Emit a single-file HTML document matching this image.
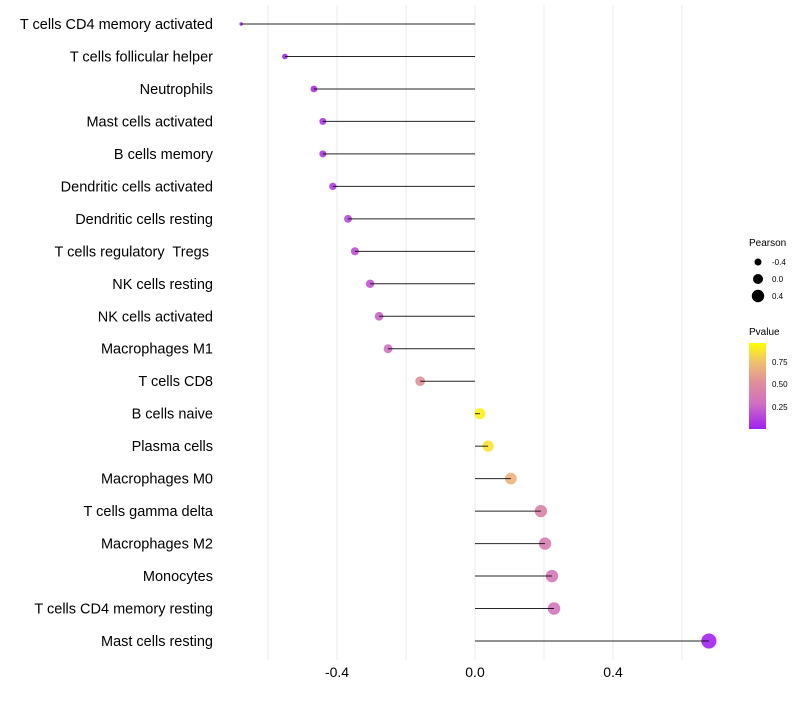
<!DOCTYPE html>
<html><head><meta charset="utf-8"><style>
body{margin:0;background:#fff;font-family:"Liberation Sans",sans-serif}
text{white-space:pre}
</style></head><body>
<svg id="c" width="800" height="700" xmlns="http://www.w3.org/2000/svg">
<defs><linearGradient id="pg" x1="0" y1="1" x2="0" y2="0">
<stop offset="0" stop-color="#a020f0"/><stop offset="0.3" stop-color="#d070c0"/><stop offset="0.55" stop-color="#e0909a"/><stop offset="0.78" stop-color="#f0c070"/><stop offset="1" stop-color="#ffff00"/></linearGradient></defs>
<g id="grid"></g><g id="marks"></g><g id="labels"></g>
<g font-size="10" fill="#000">
<text x="749" y="246">Pearson</text>
<circle cx="758" cy="262" r="3.5" fill="#000"/><text x="772" y="265" font-size="8">-0.4</text>
<circle cx="758" cy="279" r="5" fill="#000"/><text x="772" y="282" font-size="8">0.0</text>
<circle cx="758" cy="296" r="6.2" fill="#000"/><text x="772" y="299" font-size="8">0.4</text>
<text x="749" y="335">Pvalue</text>
<rect x="749" y="343" width="17" height="86" fill="url(#pg)"/>
<text x="772" y="365" font-size="8">0.75</text>
<text x="772" y="387" font-size="8">0.50</text>
<text x="772" y="410" font-size="8">0.25</text>
</g>
</svg>
<script>
const cells=["T cells CD4 memory activated","T cells follicular helper","Neutrophils","Mast cells activated","B cells memory","Dendritic cells activated","Dendritic cells resting","T cells regulatory  Tregs ","NK cells resting","NK cells activated","Macrophages M1","T cells CD8","B cells naive","Plasma cells","Macrophages M0","T cells gamma delta","Macrophages M2","Monocytes","T cells CD4 memory resting","Mast cells resting"];
const pearson=[-0.678,-0.551,-0.467,-0.441,-0.441,-0.412,-0.368,-0.348,-0.304,-0.278,-0.252,-0.159,0.014,0.038,0.104,0.191,0.203,0.223,0.229,0.678];
const pvalue=[0.01,0.02,0.05,0.08,0.08,0.1,0.15,0.17,0.2,0.25,0.3,0.55,0.95,0.9,0.72,0.45,0.4,0.36,0.34,0.01];
const ticks=[-0.4,0,0.4];
const tickLabels=["-0.4","0.0","0.4"];
const gridVals=[-0.6,-0.4,-0.2,0,0.2,0.4,0.6];
const NS="http://www.w3.org/2000/svg";
const x=v=>475+v*345;
const y=i=>24+i*(641-24)/19;
const rad=v=>Math.sqrt(Math.max(2.25,30+40*v));
function col(p){const st=[[0,[160,32,240]],[0.3,[208,112,192]],[0.55,[224,144,154]],[0.78,[240,192,112]],[1,[255,255,0]]];
for(let k=1;k<st.length;k++){if(p<=st[k][0]){const a=st[k-1],b=st[k],t=(p-a[0])/(b[0]-a[0]);return 'rgb('+a[1].map((c,j)=>Math.round(c+(b[1][j]-c)*t)).join(',')+')';}}return 'rgb(255,255,0)';}
function mk(t,at,par){const e=document.createElementNS(NS,t);for(const k in at)e.setAttribute(k,at[k]);document.getElementById(par).appendChild(e);return e;}
gridVals.forEach(v=>{const l=mk('line',{x1:x(v),x2:x(v),y1:5,y2:660,stroke:'#ebebeb','stroke-width':1},'grid');

});
ticks.forEach((v,i)=>{const t=mk('text',{x:x(v),y:677,'text-anchor':'middle','font-size':14,fill:'#000'},'labels');t.textContent=tickLabels[i];

});
cells.forEach((c,i)=>{
const p=mk('circle',{cx:x(pearson[i]),cy:y(i),r:rad(pearson[i]),fill:col(pvalue[i]),'fill-opacity':0.9},'marks');


const l=mk('line',{x1:x(0),x2:x(pearson[i]),y1:y(i),y2:y(i),stroke:'#000','stroke-width':1,'stroke-opacity':0.85},'marks');


const t=mk('text',{x:213,y:y(i)+5,'text-anchor':'end','font-size':14.5,fill:'#000'},'labels');t.textContent=c;


});
</script>
</body></html>
